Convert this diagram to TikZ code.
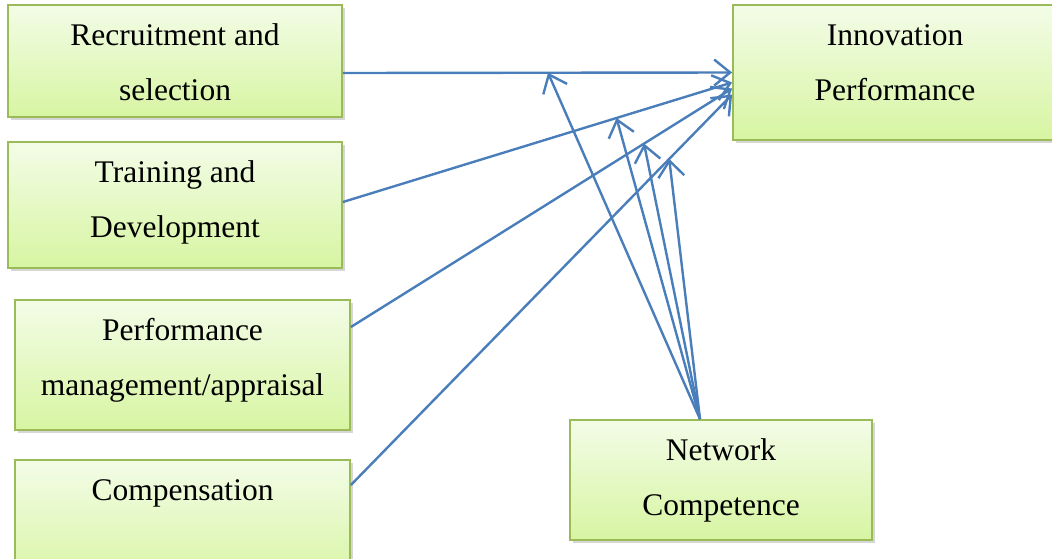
\documentclass[tikz,border=0pt]{standalone}
\usepackage{fontspec}
\setmainfont{Liberation Serif}
\usepackage{xcolor}
\usepackage{tikz}
\usetikzlibrary{arrows.meta, shadows}

\definecolor{boxline}{HTML}{9BBB59}
\definecolor{boxtop}{HTML}{F3FCE7}
\definecolor{boxbot}{HTML}{D7F5A2}
\definecolor{arrblue}{HTML}{4A7EBB}

% fixed-size text block, text set from the top
\newcommand{\blocktext}[3]{\parbox[c][#2][t]{#1}{\vspace*{2pt}\centering\strut #3}}

\begin{document}
\begin{tikzpicture}[
  x=1pt, y=-1pt,
  box/.style={draw=boxline, line width=1.8pt, inner sep=0pt,
              top color=boxtop, bottom color=boxbot,
              font=\fontsize{31.5}{55}\selectfont,
              drop shadow={shadow xshift=2.5pt, shadow yshift=-3pt, fill=black!40, opacity=0.4}},
  fl/.style={-{Straight Barb[length=16pt, width=26pt]}, draw=arrblue, line width=2.4pt}
]
\useasboundingbox (0,0) rectangle (1052,558);

\node[box] (rs) at (175,61)    {\blocktext{334pt}{112pt}{Recruitment and\\selection}};
\node[box] (td) at (175,205)   {\blocktext{334pt}{126pt}{Training and\\Development}};
\node[box] (pm) at (182.5,365) {\blocktext{335pt}{130pt}{Performance\\management/appraisal}};
\node[box] (cp) at (182.5,523) {\blocktext{335pt}{126pt}{Compensation}};
\node[box] (ip) at (895,72.5)  {\blocktext{324pt}{135pt}{Innovation\\Performance}};
\node[box] (nc) at (721,480)   {\blocktext{302pt}{120pt}{Network\\Competence}};

\coordinate (src) at ([xshift=-21pt]nc.north);

\draw[fl] ([yshift=-12pt]rs.east) -- coordinate[pos=0.527] (m1) (ip.west);
\draw[fl] ([yshift=3pt]td.east)   -- coordinate[pos=0.703] (m2) ([yshift=-10pt]ip.west);
\draw[fl] ([yshift=38pt]pm.east)  -- coordinate[pos=0.769] (m3) ([yshift=-16pt]ip.west);
\draw[fl] ([yshift=38pt]cp.east)  -- coordinate[pos=0.835] (m4) ([yshift=-22pt]ip.west);

\draw[fl] (src) -- (m1);
\draw[fl] (src) -- (m2);
\draw[fl] (src) -- (m3);
\draw[fl] (src) -- (m4);
\end{tikzpicture}
\end{document}
